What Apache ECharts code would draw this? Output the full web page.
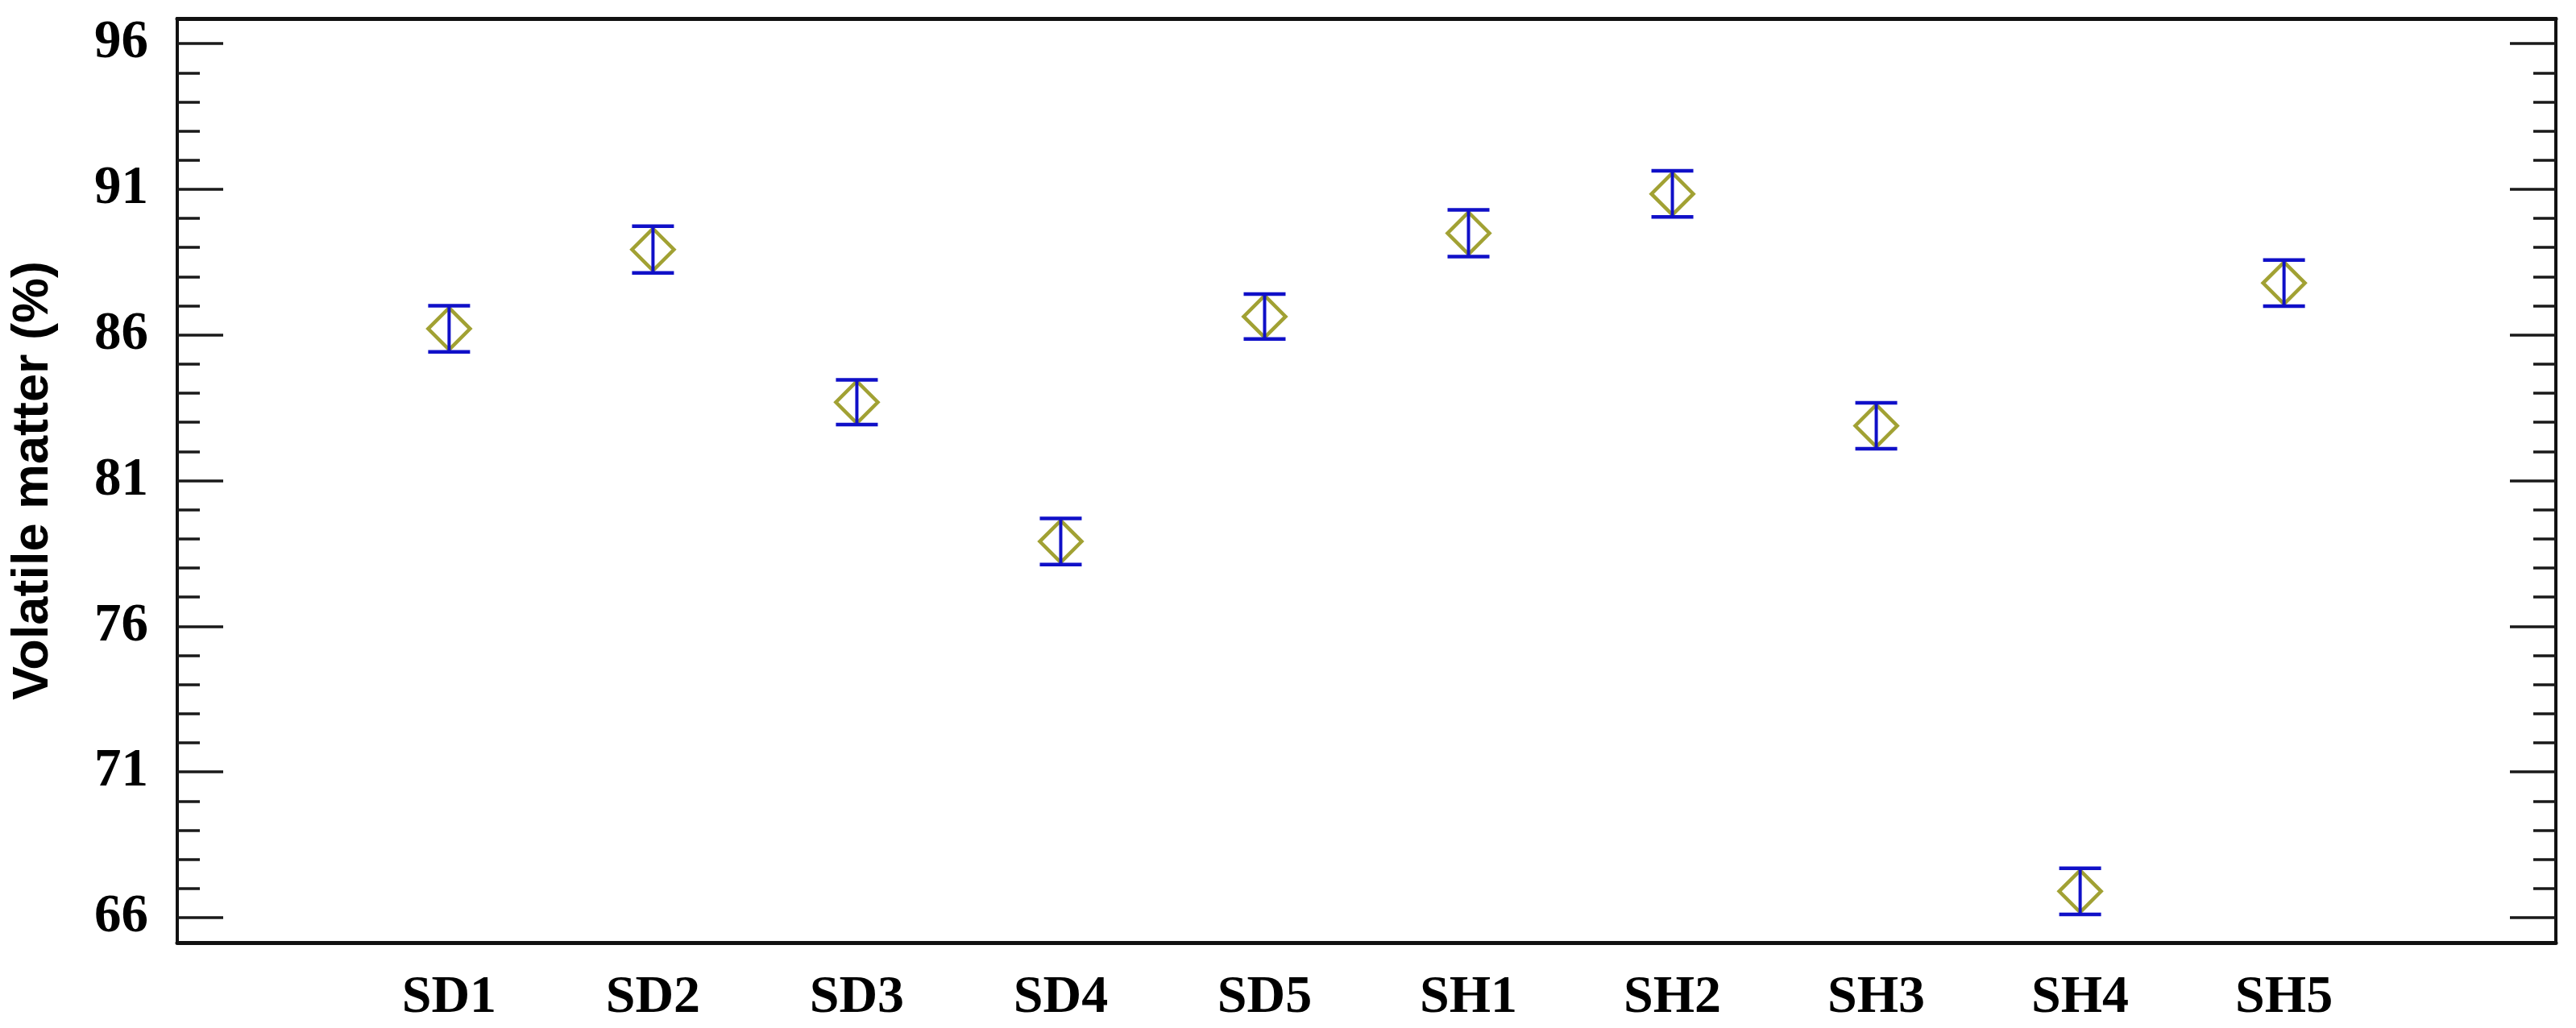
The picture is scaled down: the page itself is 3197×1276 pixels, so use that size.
<!DOCTYPE html>
<html>
<head>
<meta charset="utf-8">
<script src="https://cdn.jsdelivr.net/npm/echarts@6/dist/echarts.min.js"></script>
<style>
html,body{margin:0;padding:0;background:#fff;}
#chart{width:3197px;height:1276px;}
</style>
</head>
<body>
<div id="chart"></div>
<script>
const categories = ['SD1', 'SD2', 'SD3', 'SD4', 'SD5', 'SH1', 'SH2', 'SH3', 'SH4', 'SH5'];
const volatileMatter = [86.21, 88.93, 83.69, 78.91, 86.63, 89.49, 90.84, 82.88, 66.90, 87.78];
const errorHalf = [0.79, 0.80, 0.77, 0.79, 0.77, 0.80, 0.79, 0.79, 0.79, 0.79];
const yMajorTicks = [66, 71, 76, 81, 86, 91, 96];
const yMinorTicks = [66, 67, 68, 69, 70, 71, 72, 73, 74, 75, 76, 77, 78, 79, 80, 81, 82, 83, 84, 85, 86, 87, 88, 89, 90, 91, 92, 93, 94, 95, 96];
const yAxisTitle = 'Volatile matter (%)';

const Y_MIN = 65.14, Y_MAX = 96.86;
const X_MIN = -1 / 3, X_MAX = 11 + 1 / 3;
const positions = categories.map((c, i) => i + 1);

const AXIS_COLOR = '#111';
const DIAMOND = '#8a8a00';
const BAR = '#1010c8';
const serif = '"Liberation Serif", "Times New Roman", serif';

function yAx(position, ticks, len, withLabels) {
  const ax = {
    type: 'value', gridIndex: 0, position: position, offset: 0, min: Y_MIN, max: Y_MAX,
    splitLine: { show: false },
    axisLine: { show: true, onZero: false, lineStyle: { color: AXIS_COLOR, width: 4 } },
    axisTick: { show: true, inside: true, length: len, customValues: ticks,
      lineStyle: { color: '#1a1a1a', width: 3.5 } },
    axisLabel: { show: false }
  };
  if (withLabels) {
    ax.axisLabel = { show: true, customValues: ticks, margin: 36,
      padding: [4, 0, 0, 0],
      fontFamily: serif, fontWeight: 'bold', fontSize: 67, color: '#000' };
    ax.name = yAxisTitle;
    ax.nameLocation = 'middle';
    ax.nameRotate = 90;
    ax.nameGap = 147;
    ax.nameTextStyle = { fontFamily: '"Liberation Sans", Arial, sans-serif',
      fontWeight: 'bold', fontSize: 63, color: '#000' };
  }
  return ax;
}

function xAx(position, withLabels) {
  const ax = { type: 'value', gridIndex: 0, position: position, offset: 0, min: X_MIN, max: X_MAX,
    splitLine: { show: false },
    axisLine: { show: true, onZero: false, lineStyle: { color: AXIS_COLOR, width: 5 } },
    axisTick: { show: false }, axisLabel: { show: false } };
  if (withLabels) {
    ax.axisLabel = { show: true, customValues: positions, margin: 36,
      formatter: v => categories[Math.round(v) - 1] || '',
      fontFamily: serif, fontWeight: 'bold', fontSize: 66, color: '#000' };
  }
  return ax;
}

const chart = echarts.init(document.getElementById('chart'), null, { renderer: 'canvas' });
chart.setOption({
  animation: false,
  backgroundColor: '#fff',
  grid: { left: 220, right: 25, top: 23, bottom: 106, containLabel: false },
  xAxis: [ xAx('bottom', true), xAx('top', false) ],
  yAxis: [
    yAx('left', yMajorTicks, 57, true),
    yAx('left', yMinorTicks, 28, false),
    yAx('right', yMajorTicks, 57, false),
    yAx('right', yMinorTicks, 28, false)
  ],
  series: [
    { type: 'scatter', xAxisIndex: 0, yAxisIndex: 0, z: 2,
      symbol: 'diamond', symbolSize: [52, 52],
      itemStyle: { color: 'rgba(0,0,0,0)', borderColor: DIAMOND, borderWidth: 4.5 },
      data: positions.map((x, i) => [x, volatileMatter[i]]) },
    { type: 'custom', xAxisIndex: 0, yAxisIndex: 0, z: 3,
      data: positions.map((x, i) => [x, volatileMatter[i] - errorHalf[i], volatileMatter[i] + errorHalf[i]]),
      renderItem: function (params, api) {
        const x = api.value(0);
        const lo = api.coord([x, api.value(1)]);
        const hi = api.coord([x, api.value(2)]);
        const hw = 26;
        return { type: 'group', children: [
          { type: 'line', shape: { x1: lo[0], y1: lo[1], x2: hi[0], y2: hi[1] },
            style: { stroke: BAR, lineWidth: 4 } },
          { type: 'line', shape: { x1: lo[0] - hw, y1: lo[1], x2: lo[0] + hw, y2: lo[1] },
            style: { stroke: BAR, lineWidth: 4.5 } },
          { type: 'line', shape: { x1: hi[0] - hw, y1: hi[1], x2: hi[0] + hw, y2: hi[1] },
            style: { stroke: BAR, lineWidth: 4.5 } }
        ] };
      } }
  ]
});
</script>
</body>
</html>
